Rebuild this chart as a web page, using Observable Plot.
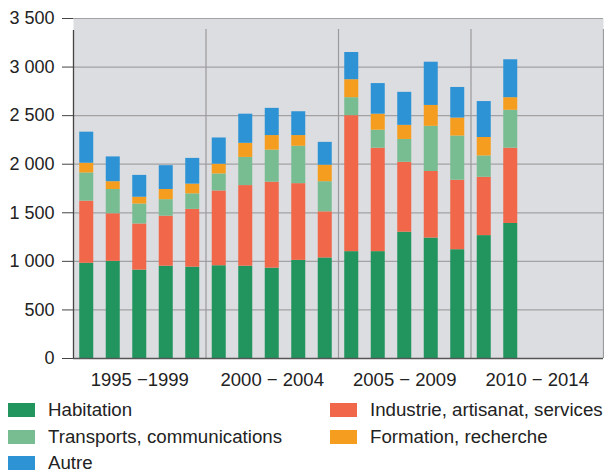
<!DOCTYPE html>
<html><head><meta charset="utf-8">
<script src="https://cdn.jsdelivr.net/npm/d3@7"></script>
<script src="https://cdn.jsdelivr.net/npm/@observablehq/plot@0.6"></script>
<style>
body{margin:0;background:#fff;font-family:"Liberation Sans",Arial,sans-serif;}
#legend{position:relative;width:604px;height:77px;font-size:18.7px;line-height:18px;color:#222;}
.item{position:absolute;display:flex;align-items:center;height:18px;white-space:nowrap;}
.sw{width:27px;height:14px;margin-right:13px;}
</style></head><body>
<div id="chart"></div><div id="legend"></div>
<script>
const years = [1995,1996,1997,1998,1999,2000,2001,2002,2003,2004,2005,2006,2007,2008,2009,2010,2011];
const categories = ["Habitation","Industrie, artisanat, services","Transports, communications","Formation, recherche","Autre"];
const colors = ["#22955f","#f0674a","#78bd92","#f59d1e","#2d93d5"];
const habitation = [980,1000,910,950,940,955,950,930,1010,1035,1100,1100,1300,1240,1120,1265,1390];
const industrie  = [640,490,475,515,595,770,830,885,790,475,1400,1065,720,685,715,600,775];
const transports = [290,250,205,170,160,175,290,330,385,310,185,185,235,465,455,220,390];
const formation  = [100,80,70,105,100,100,145,150,110,170,185,165,145,215,185,190,130];
const autre      = [320,255,225,245,265,270,300,280,245,235,280,315,340,445,315,370,390];
const series = [habitation, industrie, transports, formation, autre];
const periods = ["1995 \u22121999","2000 \u2212 2004","2005 \u2212 2009","2010 \u2212 2014"];
const periodStarts = [1995,2000,2005,2010];
const periodEnd = 2015;
const yTicks = [0,500,1000,1500,2000,2500,3000,3500];

const data = [];
categories.forEach((c,i) => years.forEach((y,j) => data.push({year:y, category:c, value:series[i][j]})));

const fmt = d => d3.format(",")(d).replace(/,/g, " ");

const chart = Plot.plot({
  width:604, height:395,
  marginLeft:73, marginRight:1, marginTop:18, marginBottom:37,
  x:{domain:[1995, periodEnd], axis:null, label:null},
  y:{domain:[0,3500], axis:null, label:null},
  color:{domain:categories, range:colors},
  style:{fontFamily:"'Liberation Sans', Arial, sans-serif", fontSize:"18px", color:"#222", background:"#fff"},
  marks:[
    Plot.frame({fill:"#dcdde0", stroke:null}),
    Plot.ruleY(yTicks, {stroke:"#a2a2a4", strokeWidth:1.2}),
    Plot.ruleX([...periodStarts.slice(1), periodEnd], {y1:0, y2:3500, insetBottom:-11, stroke:"#9a9a9c", strokeWidth:1.2}),
    Plot.rectY(data, {x:"year", interval:1, y:"value", fill:"category", insetLeft:6.25, insetRight:6.25}),
    Plot.ruleY([0], {stroke:"#555", strokeWidth:1.5}),
    Plot.ruleX([1995], {y1:0, y2:3500, insetBottom:-12, stroke:"#444", strokeWidth:1.3}),
    Plot.axisY(yTicks, {tickSize:11, tickPadding:8, tickFormat:fmt, fontSize:18, stroke:"#444", fill:"#222", label:null}),
    Plot.text(periods, {x:(d,i) => periodStarts[i] + 2.5, y:0, dy:22, text:d => d, fontSize:18.5, fill:"#222"})
  ]
});
document.getElementById("chart").appendChild(chart);

const legend = document.getElementById("legend");
const pos = [[8,6],[330,6],[8,33],[330,33],[8,59]];
categories.forEach((c,k) => {
  const it = document.createElement("div");
  it.className = "item";
  it.style.left = pos[k][0] + "px";
  it.style.top = pos[k][1] + "px";
  const sw = document.createElement("span");
  sw.className = "sw";
  sw.style.background = colors[k];
  const tx = document.createElement("span");
  tx.textContent = c;
  it.appendChild(sw); it.appendChild(tx);
  legend.appendChild(it);
});
</script>
</body></html>
